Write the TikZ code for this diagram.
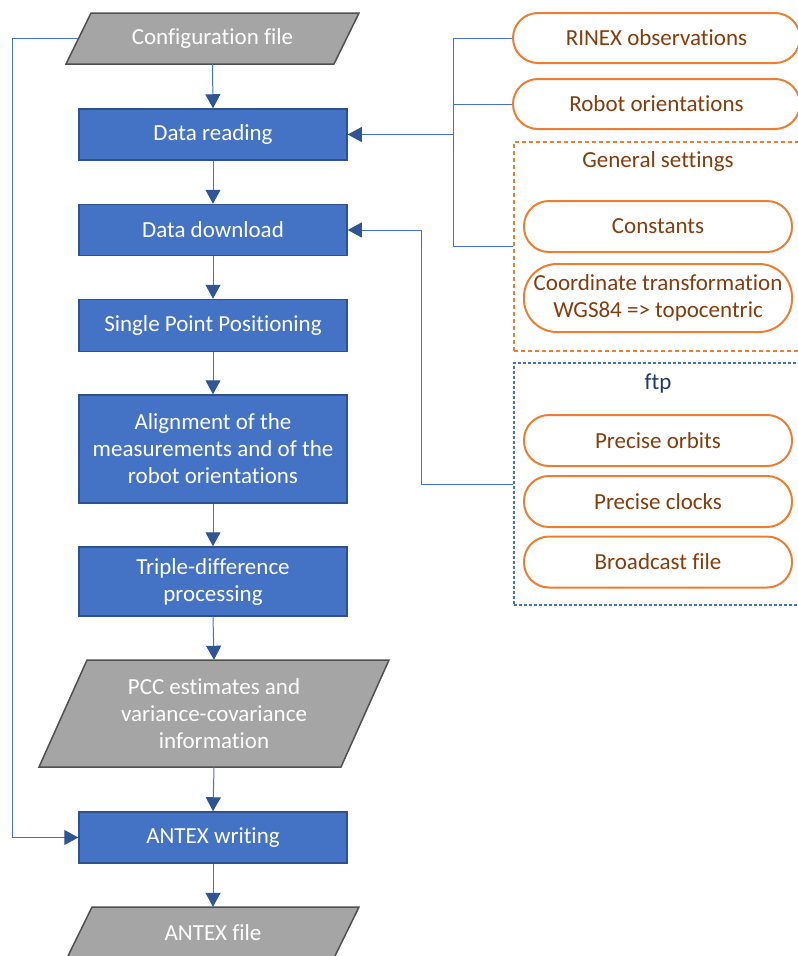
\documentclass[tikz,border=0pt]{standalone}
\usepackage{fontspec}
\setmainfont{Carlito}[Ligatures=NoCommon]
\usetikzlibrary{arrows.meta}

\definecolor{procfill}{HTML}{4472C4}
\definecolor{procedge}{HTML}{2F528F}
\definecolor{filefill}{HTML}{A5A5A5}
\definecolor{fileedge}{HTML}{505050}
\definecolor{srcedge}{HTML}{ED7D31}
\definecolor{srctext}{HTML}{843C0C}
\definecolor{linkline}{HTML}{4472C4}
\definecolor{linktip}{HTML}{2F5597}
\definecolor{ftptext}{HTML}{203864}

\tikzset{
  every node/.style={font=\fontsize{23}{27}\selectfont},
  process/.style={rectangle, fill=procfill, draw=procedge, line width=1.5pt,
    text=white, minimum width=268, align=center, inner sep=0pt},
  iofile/.style={fill=filefill, draw=fileedge, line width=1.5pt},
  iotext/.style={text=white, align=center, inner sep=0pt},
  source/.style={rectangle, rounded corners=25pt, draw=srcedge, line width=2pt,
    text=srctext, minimum width=268, minimum height=51, align=center, inner sep=0pt},
  group/.style={rectangle, line width=1.5pt, minimum width=290, inner sep=0pt},
  link/.style={draw=linkline, line width=1pt},
  flow/.style={link, -{Triangle[length=14pt, width=15pt, color=linktip, fill=linktip]}},
}

% parallelogram for input/output files:
% name, centre x, centre y, mean width, height, slant, text
\newcommand\iofilenode[7]{%
  \filldraw[iofile] ({#2-#4/2+#6/2},{#3-#5/2}) -- ({#2+#4/2+#6/2},{#3-#5/2})
    -- ({#2+#4/2-#6/2},{#3+#5/2}) -- ({#2-#4/2-#6/2},{#3+#5/2}) -- cycle;
  \node[iotext, minimum width=#4, minimum height=#5] (#1) at (#2,#3) {#7};}

\begin{document}
\begin{tikzpicture}[x=1pt, y=-1pt]
\useasboundingbox (0,0) rectangle (798,956);
\clip (0,0) rectangle (798,956);

% main processing chain
\iofilenode{cfg}{212.5}{38.5}{268}{51}{25}{Configuration file}
\node[process, minimum height=51] (dr)  at (213,134.5) {Data reading};
\node[process, minimum height=51] (dd)  at (213,230)   {Data download};
\node[process, minimum height=52] (spp) at (213,325.5) {Single Point Positioning};
\node[process, minimum height=108] (al) at (213,449)
  {Alignment of the\\measurements and of the\\robot orientations};
\node[process, minimum height=69] (td)  at (213,581.5) {Triple-difference\\processing};
\iofilenode{pcc}{214}{713.5}{302}{107}{48}{PCC estimates and\\variance-covariance\\information}
\node[process, minimum height=51] (aw)  at (213,837.5) {ANTEX writing};
\iofilenode{af}{213}{932.5}{267}{51}{25}{ANTEX file}

% inputs
\node[source, minimum width=287, minimum height=50] (rinex) at (656.5,38) {RINEX observations};
\node[source, minimum width=287, minimum height=50] (robot) at (656.5,104) {Robot orientations};

\node[group, draw=srcedge, dash pattern=on 4pt off 3pt, minimum height=209] (gen) at (659,246.5) {};
\node[text=srctext] (gentitle) at (658,161) {General settings};
\node[source] (const) at (658,226.5) {Constants};
\node[source, minimum height=68, rounded corners=33pt] (coord) at (658,298)
  {Coordinate transformation\\WGS84 => topocentric};

\node[group, draw=procfill, dash pattern=on 3pt off 2pt, minimum height=242] (ftp) at (659,484) {};
\node[text=ftptext] (ftptitle) at (658,383) {ftp};
\node[source] (orbits) at (658,440.5) {Precise orbits};
\node[source] (clocks) at (658,501.5) {Precise clocks};
\node[source] (bcast)  at (658,562)   {Broadcast file};

% chain arrows
\draw[flow] (cfg.south) -- (dr.north);
\draw[flow] (dr.south) -- (dd.north);
\draw[flow] (dd.south) -- (spp.north);
\draw[flow] (spp.south) -- (al.north);
\draw[flow] (al.south) -- (td.north);
\draw[flow] (td.south) -- (pcc.north);
\draw[flow] (pcc.south) -- (aw.north);
\draw[flow] (aw.south) -- (af.north);

% configuration feeds ANTEX writing
\coordinate (rail) at (12,38.5);
\draw[flow] (cfg.west) -- (rail) |- (aw.west);

% local inputs collected on a bus into data reading
\coordinate (bus) at (453,134.5);
\draw[link] (rinex.west) -| (bus);
\draw[link] (gen.west) -| (bus);
\draw[link] (robot.west) -- (robot.west -| bus);
\draw[flow] (bus) -- (dr.east);

% ftp products into data download
\coordinate (ftpbend) at (421,484);
\draw[flow] (ftp.west) -- (ftpbend) |- (dd.east);
\end{tikzpicture}
\end{document}
